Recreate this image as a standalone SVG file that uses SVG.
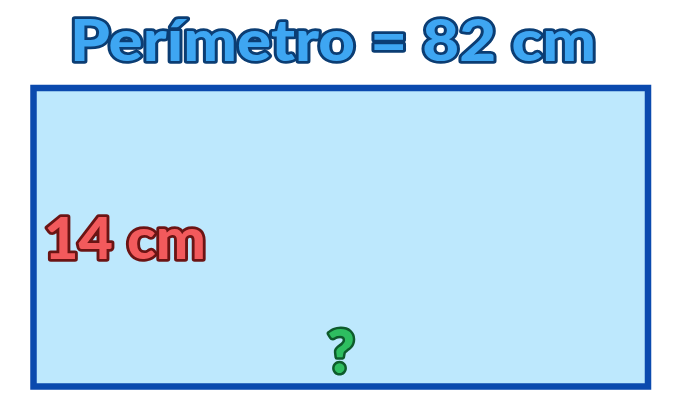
<svg xmlns="http://www.w3.org/2000/svg" width="685" height="404" viewBox="0 0 685 404">
<style>
.t{font-family:Lato,"DejaVu Sans","Liberation Sans",sans-serif;font-weight:900;paint-order:stroke;stroke-linejoin:round}
.title{fill:#3EA6F2;stroke:#0B3D73;stroke-width:5.5}
.side{fill:#F25A5C;stroke:#6B1414;stroke-width:5.5}
.q{fill:#2EBE60;stroke:#0E5B2C;stroke-width:5}
</style>
<rect width="685" height="404" fill="#FFFFFF"/>
<g id="rectangle">
<rect x="33.5" y="88" width="614.5" height="298.5" fill="#BDE8FD" stroke="#0B4AAE" stroke-width="6.5"/>
</g>
<g id="title">
<text class="t title" x="70" y="61" font-size="58" textLength="526" lengthAdjust="spacingAndGlyphs">Perímetro = 82 cm</text>
</g>
<g id="side-label">
<text class="t side" x="44" y="259" font-size="57" textLength="162" lengthAdjust="spacingAndGlyphs">14 cm</text>
</g>
<g id="unknown">
<text class="t q" x="341" y="373" font-size="60" text-anchor="middle" textLength="28" lengthAdjust="spacingAndGlyphs">?</text>
</g>
</svg>
